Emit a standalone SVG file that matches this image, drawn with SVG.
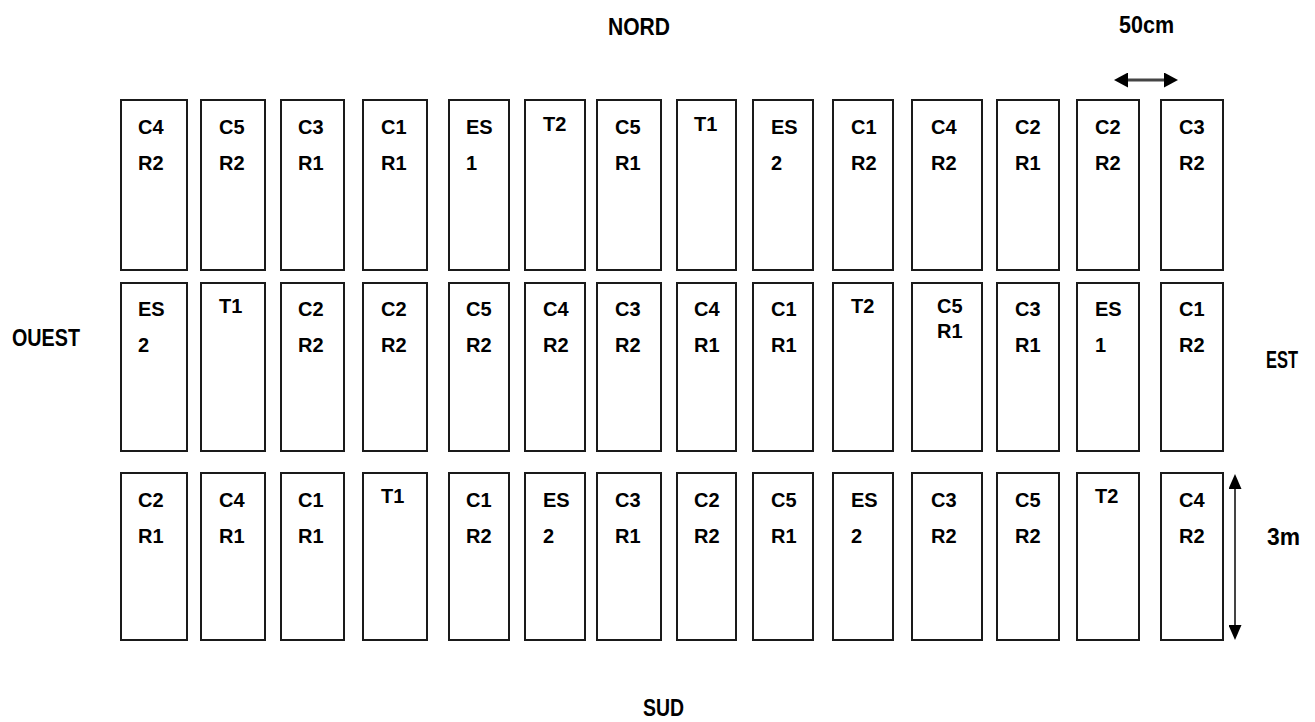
<svg xmlns="http://www.w3.org/2000/svg" width="1315" height="722" viewBox="0 0 1315 722">
<style>
.plot{fill:#fff;stroke:#1a1a1a;stroke-width:2}
.lbl{font-family:"Liberation Sans",Arial,sans-serif;font-weight:bold;font-size:20px;fill:#000}
.dir{font-family:"Liberation Sans",Arial,sans-serif;font-weight:bold;font-size:23px;fill:#000}
.dim{stroke:#444;fill:none}
</style>
<defs>
<marker id="ahH" markerUnits="userSpaceOnUse" markerWidth="14" markerHeight="15" refX="0" refY="7.5" orient="auto-start-reverse"><path d="M0,0 L14,7.5 L0,15 z" fill="#000"/></marker>
<marker id="ahV" markerUnits="userSpaceOnUse" markerWidth="15" markerHeight="13" refX="0" refY="6.5" orient="auto-start-reverse"><path d="M0,0 L15,6.5 L0,13 z" fill="#000"/></marker>
</defs>
<rect width="1315" height="722" fill="#fff"/>
<g id="labels">
<text class="dir" x="608" y="35" textLength="62" lengthAdjust="spacingAndGlyphs">NORD</text>
<text class="dir" x="643" y="716" textLength="41" lengthAdjust="spacingAndGlyphs">SUD</text>
<text class="dir" x="12" y="346" textLength="68" lengthAdjust="spacingAndGlyphs">OUEST</text>
<text class="dir" x="1266" y="368" textLength="32" lengthAdjust="spacingAndGlyphs">EST</text>
<text class="dir" x="1119" y="33" textLength="55" lengthAdjust="spacingAndGlyphs">50cm</text>
<text class="dir" x="1267" y="545" textLength="33" lengthAdjust="spacingAndGlyphs">3m</text>
</g>
<g id="connectors">
<line class="dim" x1="1128" y1="80" x2="1164" y2="80" stroke-width="3" marker-start="url(#ahH)" marker-end="url(#ahH)"/>
<line class="dim" x1="1235" y1="489" x2="1235" y2="625" stroke-width="2" marker-start="url(#ahV)" marker-end="url(#ahV)"/>
</g>
<!-- Row 1 -->
<g id="r1c1"><rect class="plot" x="121" y="100" width="66" height="170"/><text class="lbl" x="138" y="134">C4</text><text class="lbl" x="138" y="170">R2</text></g>
<g id="r1c2"><rect class="plot" x="201" y="100" width="64" height="170"/><text class="lbl" x="219" y="134">C5</text><text class="lbl" x="219" y="170">R2</text></g>
<g id="r1c3"><rect class="plot" x="281" y="100" width="63" height="170"/><text class="lbl" x="298" y="134">C3</text><text class="lbl" x="298" y="170">R1</text></g>
<g id="r1c4"><rect class="plot" x="363" y="100" width="64" height="170"/><text class="lbl" x="381" y="134">C1</text><text class="lbl" x="381" y="170">R1</text></g>
<g id="r1c5"><rect class="plot" x="449" y="100" width="60" height="170"/><text class="lbl" x="466" y="134">ES</text><text class="lbl" x="466" y="170">1</text></g>
<g id="r1c6"><rect class="plot" x="525" y="100" width="60" height="170"/><text class="lbl" x="543" y="131">T2</text></g>
<g id="r1c7"><rect class="plot" x="597" y="100" width="64" height="170"/><text class="lbl" x="615" y="134">C5</text><text class="lbl" x="615" y="170">R1</text></g>
<g id="r1c8"><rect class="plot" x="677" y="100" width="59" height="170"/><text class="lbl" x="694" y="131">T1</text></g>
<g id="r1c9"><rect class="plot" x="753" y="100" width="60" height="170"/><text class="lbl" x="771" y="134">ES</text><text class="lbl" x="771" y="170">2</text></g>
<g id="r1c10"><rect class="plot" x="833" y="100" width="60" height="170"/><text class="lbl" x="851" y="134">C1</text><text class="lbl" x="851" y="170">R2</text></g>
<g id="r1c11"><rect class="plot" x="912" y="100" width="70" height="170"/><text class="lbl" x="931" y="134">C4</text><text class="lbl" x="931" y="170">R2</text></g>
<g id="r1c12"><rect class="plot" x="997" y="100" width="62" height="170"/><text class="lbl" x="1015" y="134">C2</text><text class="lbl" x="1015" y="170">R1</text></g>
<g id="r1c13"><rect class="plot" x="1077" y="100" width="62" height="170"/><text class="lbl" x="1095" y="134">C2</text><text class="lbl" x="1095" y="170">R2</text></g>
<g id="r1c14"><rect class="plot" x="1161" y="100" width="62" height="170"/><text class="lbl" x="1179" y="134">C3</text><text class="lbl" x="1179" y="170">R2</text></g>
<!-- Row 2 -->
<g id="r2c1"><rect class="plot" x="121" y="283" width="66" height="168"/><text class="lbl" x="138" y="316">ES</text><text class="lbl" x="138" y="352">2</text></g>
<g id="r2c2"><rect class="plot" x="201" y="283" width="64" height="168"/><text class="lbl" x="219" y="313">T1</text></g>
<g id="r2c3"><rect class="plot" x="281" y="283" width="63" height="168"/><text class="lbl" x="298" y="316">C2</text><text class="lbl" x="298" y="352">R2</text></g>
<g id="r2c4"><rect class="plot" x="363" y="283" width="64" height="168"/><text class="lbl" x="381" y="316">C2</text><text class="lbl" x="381" y="352">R2</text></g>
<g id="r2c5"><rect class="plot" x="449" y="283" width="60" height="168"/><text class="lbl" x="466" y="316">C5</text><text class="lbl" x="466" y="352">R2</text></g>
<g id="r2c6"><rect class="plot" x="525" y="283" width="60" height="168"/><text class="lbl" x="543" y="316">C4</text><text class="lbl" x="543" y="352">R2</text></g>
<g id="r2c7"><rect class="plot" x="597" y="283" width="64" height="168"/><text class="lbl" x="615" y="316">C3</text><text class="lbl" x="615" y="352">R2</text></g>
<g id="r2c8"><rect class="plot" x="677" y="283" width="59" height="168"/><text class="lbl" x="694" y="316">C4</text><text class="lbl" x="694" y="352">R1</text></g>
<g id="r2c9"><rect class="plot" x="753" y="283" width="60" height="168"/><text class="lbl" x="771" y="316">C1</text><text class="lbl" x="771" y="352">R1</text></g>
<g id="r2c10"><rect class="plot" x="833" y="283" width="60" height="168"/><text class="lbl" x="851" y="313">T2</text></g>
<g id="r2c11"><rect class="plot" x="912" y="283" width="70" height="168"/><text class="lbl" x="937" y="313">C5</text><text class="lbl" x="937" y="338">R1</text></g>
<g id="r2c12"><rect class="plot" x="997" y="283" width="62" height="168"/><text class="lbl" x="1015" y="316">C3</text><text class="lbl" x="1015" y="352">R1</text></g>
<g id="r2c13"><rect class="plot" x="1077" y="283" width="62" height="168"/><text class="lbl" x="1095" y="316">ES</text><text class="lbl" x="1095" y="352">1</text></g>
<g id="r2c14"><rect class="plot" x="1161" y="283" width="62" height="168"/><text class="lbl" x="1179" y="316">C1</text><text class="lbl" x="1179" y="352">R2</text></g>
<!-- Row 3 -->
<g id="r3c1"><rect class="plot" x="121" y="473" width="66" height="167"/><text class="lbl" x="138" y="507">C2</text><text class="lbl" x="138" y="543">R1</text></g>
<g id="r3c2"><rect class="plot" x="201" y="473" width="64" height="167"/><text class="lbl" x="219" y="507">C4</text><text class="lbl" x="219" y="543">R1</text></g>
<g id="r3c3"><rect class="plot" x="281" y="473" width="63" height="167"/><text class="lbl" x="298" y="507">C1</text><text class="lbl" x="298" y="543">R1</text></g>
<g id="r3c4"><rect class="plot" x="363" y="473" width="64" height="167"/><text class="lbl" x="381" y="503">T1</text></g>
<g id="r3c5"><rect class="plot" x="449" y="473" width="60" height="167"/><text class="lbl" x="466" y="507">C1</text><text class="lbl" x="466" y="543">R2</text></g>
<g id="r3c6"><rect class="plot" x="525" y="473" width="60" height="167"/><text class="lbl" x="543" y="507">ES</text><text class="lbl" x="543" y="543">2</text></g>
<g id="r3c7"><rect class="plot" x="597" y="473" width="64" height="167"/><text class="lbl" x="615" y="507">C3</text><text class="lbl" x="615" y="543">R1</text></g>
<g id="r3c8"><rect class="plot" x="677" y="473" width="59" height="167"/><text class="lbl" x="694" y="507">C2</text><text class="lbl" x="694" y="543">R2</text></g>
<g id="r3c9"><rect class="plot" x="753" y="473" width="60" height="167"/><text class="lbl" x="771" y="507">C5</text><text class="lbl" x="771" y="543">R1</text></g>
<g id="r3c10"><rect class="plot" x="833" y="473" width="60" height="167"/><text class="lbl" x="851" y="507">ES</text><text class="lbl" x="851" y="543">2</text></g>
<g id="r3c11"><rect class="plot" x="912" y="473" width="70" height="167"/><text class="lbl" x="931" y="507">C3</text><text class="lbl" x="931" y="543">R2</text></g>
<g id="r3c12"><rect class="plot" x="997" y="473" width="62" height="167"/><text class="lbl" x="1015" y="507">C5</text><text class="lbl" x="1015" y="543">R2</text></g>
<g id="r3c13"><rect class="plot" x="1077" y="473" width="62" height="167"/><text class="lbl" x="1095" y="503">T2</text></g>
<g id="r3c14"><rect class="plot" x="1161" y="473" width="62" height="167"/><text class="lbl" x="1179" y="507">C4</text><text class="lbl" x="1179" y="543">R2</text></g>
</svg>
